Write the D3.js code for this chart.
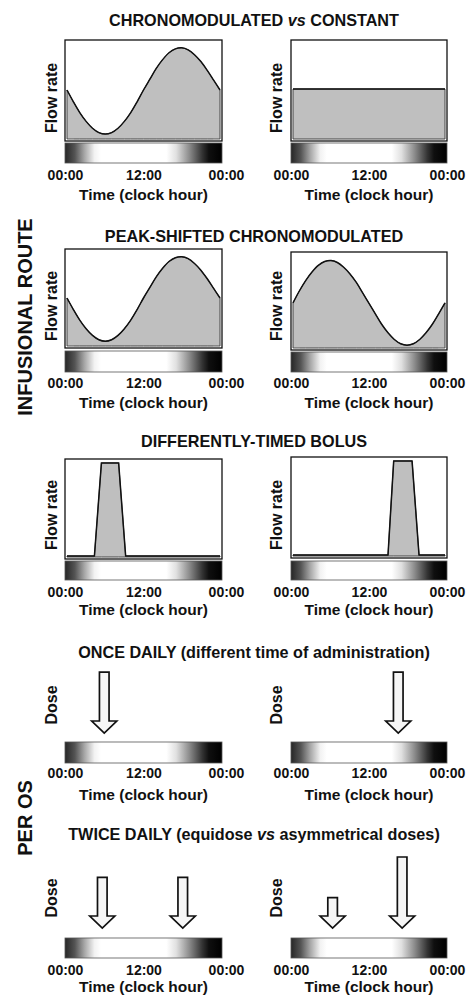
<!DOCTYPE html>
<html>
<head>
<meta charset="utf-8">
<script src="https://cdn.jsdelivr.net/npm/d3@7"></script>
<style>
  html, body { margin: 0; padding: 0; background: #fff; }
  svg { display: block; font-family: "Liberation Sans", Arial, Helvetica, sans-serif; }
</style>
</head>
<body>
<svg id="chart" width="467" height="996"></svg>
<script>
// ---------------- DATA ----------------
const hours = [0,1,2,3,4,5,6,7,8,9,10,11,12,13,14,15,16,17,18,19,20,21,22,23,24];
// chronomodulated, peak in late afternoon
const chronoLate = [0.50,0.38,0.27,0.18,0.11,0.065,0.05,0.065,0.11,0.18,0.27,0.38,0.50,0.61,0.72,0.81,0.88,0.92,0.93,0.91,0.86,0.79,0.70,0.60,0.50];
// peak-shifted chronomodulated, peak in early morning
const chronoEarly = [0.475,0.60,0.71,0.80,0.87,0.91,0.92,0.90,0.85,0.78,0.69,0.58,0.47,0.36,0.25,0.16,0.09,0.045,0.03,0.045,0.09,0.16,0.25,0.36,0.475];
// constant infusion
const constantHours = [0, 24];
const constantRate = [0.51, 0.51];
// differently-timed bolus
const bolusHours = [0, 4.3, 5.4, 8.1, 9.2, 24];
const bolusRate = [0.01, 0.01, 0.97, 0.97, 0.01, 0.01];
const bolusLateHours = [0, 15.0, 15.9, 18.8, 19.9, 24];
const bolusLateRate = [0.01, 0.01, 0.97, 0.97, 0.01, 0.01];
// per os doses (arbitrary units)
const onceMorningHours = [6];
const onceMorningDoses = [6];
const onceAfternoonHours = [16.5];
const onceAfternoonDoses = [6];
const twiceEquiHours = [5.7, 18];
const twiceEquiDoses = [5, 5];
const twiceAsymHours = [6.4, 17.1];
const twiceAsymDoses = [3, 7];
// day/night shading of the time bar
const shadeHours = [0, 1.5, 3, 4.5, 5.5, 15.5, 17, 19, 21, 22, 24];
const shadeGray  = [0.15, 0.33, 0.66, 0.95, 1, 1, 0.88, 0.55, 0.2, 0.06, 0];
const tickHours = [0, 12, 24];
const tickLabels = ["00:00", "12:00", "00:00"];
const sectionTitles = ["CHRONOMODULATED |vs| CONSTANT", "PEAK-SHIFTED CHRONOMODULATED", "DIFFERENTLY-TIMED BOLUS",
  "ONCE DAILY (different time of administration)", "TWICE DAILY (equidose |vs| asymmetrical doses)"];
const routeLabels = ["INFUSIONAL ROUTE", "PER OS"];

// ---------------- LAYOUT ----------------
const svg = d3.select("#chart");
const colRange = [[65, 222], [291, 447]];
const FILL = "#bfbfbf";

const rows = [
  {title: 26, frames: [[40,141],[40,141]], grad: [[143,163],[143,163]], tick: 180, time: 200, ylab: 98, ylabText: "Flow rate"},
  {title: 242, frames: [[249,348],[252,350]], grad: [[351,372],[352,372]], tick: 388, time: 408, ylab: 306, ylabText: "Flow rate"},
  {title: 447, frames: [[459,559],[457,558]], grad: [[561,580],[561,580]], tick: 597, time: 615, ylab: 515, ylabText: "Flow rate"},
  {title: 658, tip: 733, grad: [[742,763],[742,763]], tick: 778, time: 800, ylab: 705, ylabText: "Dose"},
  {title: 840, tip: 928, grad: [[938,958],[938,958]], tick: 975, time: 992, ylab: 898, ylabText: "Dose"}
];

const panelData = [
  [{h: hours, v: chronoLate}, {h: constantHours, v: constantRate}],
  [{h: hours, v: chronoLate}, {h: hours, v: chronoEarly}],
  [{h: bolusHours, v: bolusRate}, {h: bolusLateHours, v: bolusLateRate}],
  [{h: onceMorningHours, d: onceMorningDoses}, {h: onceAfternoonHours, d: onceAfternoonDoses}],
  [{h: twiceEquiHours, d: twiceEquiDoses}, {h: twiceAsymHours, d: twiceAsymDoses}]
];

// gradient definition
const defs = svg.append("defs");
const grad = defs.append("linearGradient").attr("id", "daynight")
  .attr("x1", "0%").attr("x2", "100%").attr("y1", "0%").attr("y2", "0%");
const shadeScale = d3.scaleLinear().domain([0, 24]).range([0, 100]);
shadeHours.forEach((h, i) => {
  const g = Math.round(shadeGray[i] * 255);
  grad.append("stop").attr("offset", shadeScale(h) + "%").attr("stop-color", d3.rgb(g, g, g));
});

const doseScale = d3.scaleLinear().domain([0, 7]).range([0, 71]);

function addTitle(y, txt) {
  const t = svg.append("text").attr("x", 254).attr("y", y).attr("text-anchor", "middle")
    .attr("font-size", 16.2).attr("font-weight", "bold").attr("fill", "#111");
  txt.split("|").forEach((part, i) => {
    t.append("tspan").text(part).attr("font-style", i % 2 === 1 ? "italic" : "normal");
  });
}

rows.forEach((row, ri) => {
  addTitle(row.title, sectionTitles[ri]);
  [0, 1].forEach(ci => {
    const x = d3.scaleLinear().domain([0, 24]).range(colRange[ci]);
    const g = svg.append("g");
    const data = panelData[ri][ci];

    if (row.frames) {
      const [top, bot] = row.frames[ci];
      const y = d3.scaleLinear().domain([0, 1]).range([bot - 2, top + 1]);
      const xi = d3.scaleLinear().domain([0, 24]).range([colRange[ci][0] + 2, colRange[ci][1] - 2]);
      const pts = data.h.map((h, i) => [h, data.v[i]]);
      const smooth = pts.length > 6 ? d3.curveCatmullRom : d3.curveLinear;
      const area = d3.area().x(d => xi(d[0])).y0(y(0)).y1(d => y(d[1])).curve(smooth);
      const line = d3.line().x(d => xi(d[0])).y(d => y(d[1])).curve(smooth);
      g.append("path").attr("d", area(pts)).attr("fill", FILL).attr("stroke", "#444").attr("stroke-width", 1);
      g.append("path").attr("d", line(pts)).attr("fill", "none").attr("stroke", "#111").attr("stroke-width", 1.5);
      g.append("rect").attr("x", colRange[ci][0]).attr("y", top)
        .attr("width", colRange[ci][1] - colRange[ci][0]).attr("height", bot - top)
        .attr("fill", "none").attr("stroke", "#111").attr("stroke-width", 1.3);
    } else {
      const tip = row.tip;
      data.h.forEach((h, i) => {
        const cx = x(h), len = doseScale(data.d[i]);
        const headL = 12, headW = 12.5, shaftW = 4.8;
        const p = d3.path();
        p.moveTo(cx - shaftW, tip - len);
        p.lineTo(cx + shaftW, tip - len);
        p.lineTo(cx + shaftW, tip - headL);
        p.lineTo(cx + headW, tip - headL);
        p.lineTo(cx, tip);
        p.lineTo(cx - headW, tip - headL);
        p.lineTo(cx - shaftW, tip - headL);
        p.closePath();
        g.append("path").attr("d", p.toString()).attr("fill", "#f6f6f6")
          .attr("stroke", "#111").attr("stroke-width", 1.7).attr("stroke-linejoin", "miter");
      });
    }

    // day/night bar
    const [gt, gb] = row.grad[ci];
    g.append("rect").attr("x", colRange[ci][0]).attr("y", gt)
      .attr("width", colRange[ci][1] - colRange[ci][0]).attr("height", gb - gt)
      .attr("fill", "url(#daynight)").attr("stroke", "#555").attr("stroke-width", 0.8);

    // axis tick labels
    const axis = d3.axisBottom(x).tickValues(tickHours).tickSize(0)
      .tickFormat((d, i) => tickLabels[i]);
    const ax = g.append("g").attr("transform", `translate(0,${row.tick - 11})`).call(axis);
    ax.select(".domain").remove();
    ax.selectAll("text").attr("font-size", 14).attr("font-weight", "bold")
      .attr("font-family", "Liberation Sans, Arial, sans-serif").attr("fill", "#111").attr("dy", 0).attr("y", 11)
      .attr("dx", (d, i) => (ci === 0 && i === 2) ? 4 : 0);

    // x title
    g.append("text").attr("x", (colRange[ci][0] + colRange[ci][1]) / 2).attr("y", row.time)
      .attr("text-anchor", "middle").attr("font-size", 15.5).attr("font-weight", "bold")
      .attr("fill", "#111").text("Time (clock hour)");

    // y title
    const lx = ci === 0 ? 57 : 282;
    g.append("text").attr("transform", `translate(${lx},${row.ylab}) rotate(-90)`)
      .attr("text-anchor", "middle").attr("font-size", 16).attr("font-weight", "bold")
      .attr("fill", "#111").text(row.ylabText);
  });
});

// route labels
[[317, 0], [818, 1]].forEach(([cy, i]) => {
  svg.append("text").attr("transform", `translate(32,${cy}) rotate(-90)`)
    .attr("text-anchor", "middle").attr("font-size", 20).attr("font-weight", "bold")
    .attr("fill", "#111").text(routeLabels[i]);
});
</script>
</body>
</html>
